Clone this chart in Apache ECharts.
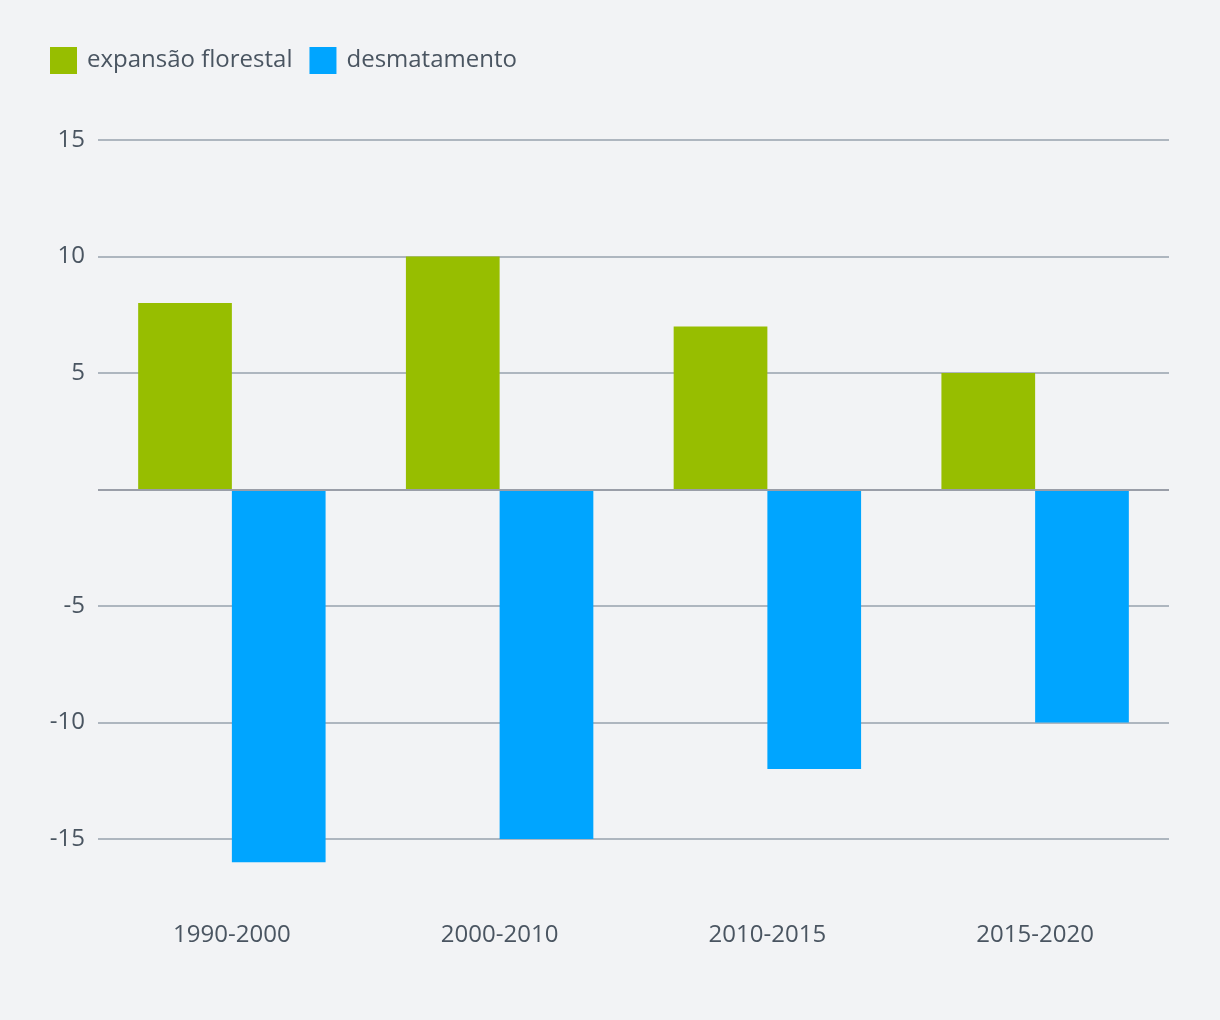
<!DOCTYPE html>
<html>
<head>
<meta charset="utf-8">
<script src="https://cdn.jsdelivr.net/npm/echarts@6/dist/echarts.min.js"></script>
<style>
html,body{margin:0;padding:0;background:#f2f3f5;}
#chart{width:1220px;height:1020px;}
</style>
</head>
<body>
<div id="chart"></div>
<script>
const categories = ['1990-2000', '2000-2010', '2010-2015', '2015-2020'];
const expansao = [8, 10, 7, 5];
const desmatamento = [-16, -15, -12, -10];
const seriesNames = ['expansão florestal', 'desmatamento'];

const textColor = '#4a5561';
const chart = echarts.init(document.getElementById('chart'));
chart.setOption({
  backgroundColor: '#f2f3f5',
  textStyle: { fontFamily: 'Open Sans' },
  legend: {
    left: 50, top: 47, padding: 0,
    itemWidth: 27, itemHeight: 27,
    itemGap: 17,
    icon: 'rect',
    textStyle: { color: textColor, fontSize: 24, fontFamily: 'Open Sans', padding: [0, 0, 0, 5] },
    data: seriesNames
  },
  grid: { left: 98, right: 51, top: 140, bottom: 181 },
  xAxis: {
    type: 'category',
    data: categories,
    axisLine: { show: false },
    axisTick: { show: false },
    axisLabel: { color: textColor, fontSize: 24, margin: 84, fontFamily: 'Open Sans' }
  },
  yAxis: {
    type: 'value',
    min: -15, max: 15, interval: 5,
    axisLine: { show: false },
    axisTick: { show: false },
    axisLabel: {
      color: textColor, fontSize: 24, margin: 13, fontFamily: 'Open Sans',
      formatter: v => (v === 0 ? '' : String(v))
    },
    splitLine: { lineStyle: { color: '#aeb6bf', width: 2 } }
  },
  series: [
    {
      name: seriesNames[0], type: 'bar', data: expansao,
      itemStyle: { color: '#97be00' },
      barGap: '0%', barCategoryGap: '30%', clip: false,
      markLine: {
        silent: true, symbol: 'none',
        label: { show: false },
        lineStyle: { color: '#9a9ea8', width: 2, type: 'solid' },
        data: [{ yAxis: 0 }],
        z: 10
      }
    },
    {
      name: seriesNames[1], type: 'bar', data: desmatamento,
      itemStyle: { color: '#00a5ff' },
      barGap: '0%', barCategoryGap: '30%', clip: false
    }
  ]
});
</script>
</body>
</html>
